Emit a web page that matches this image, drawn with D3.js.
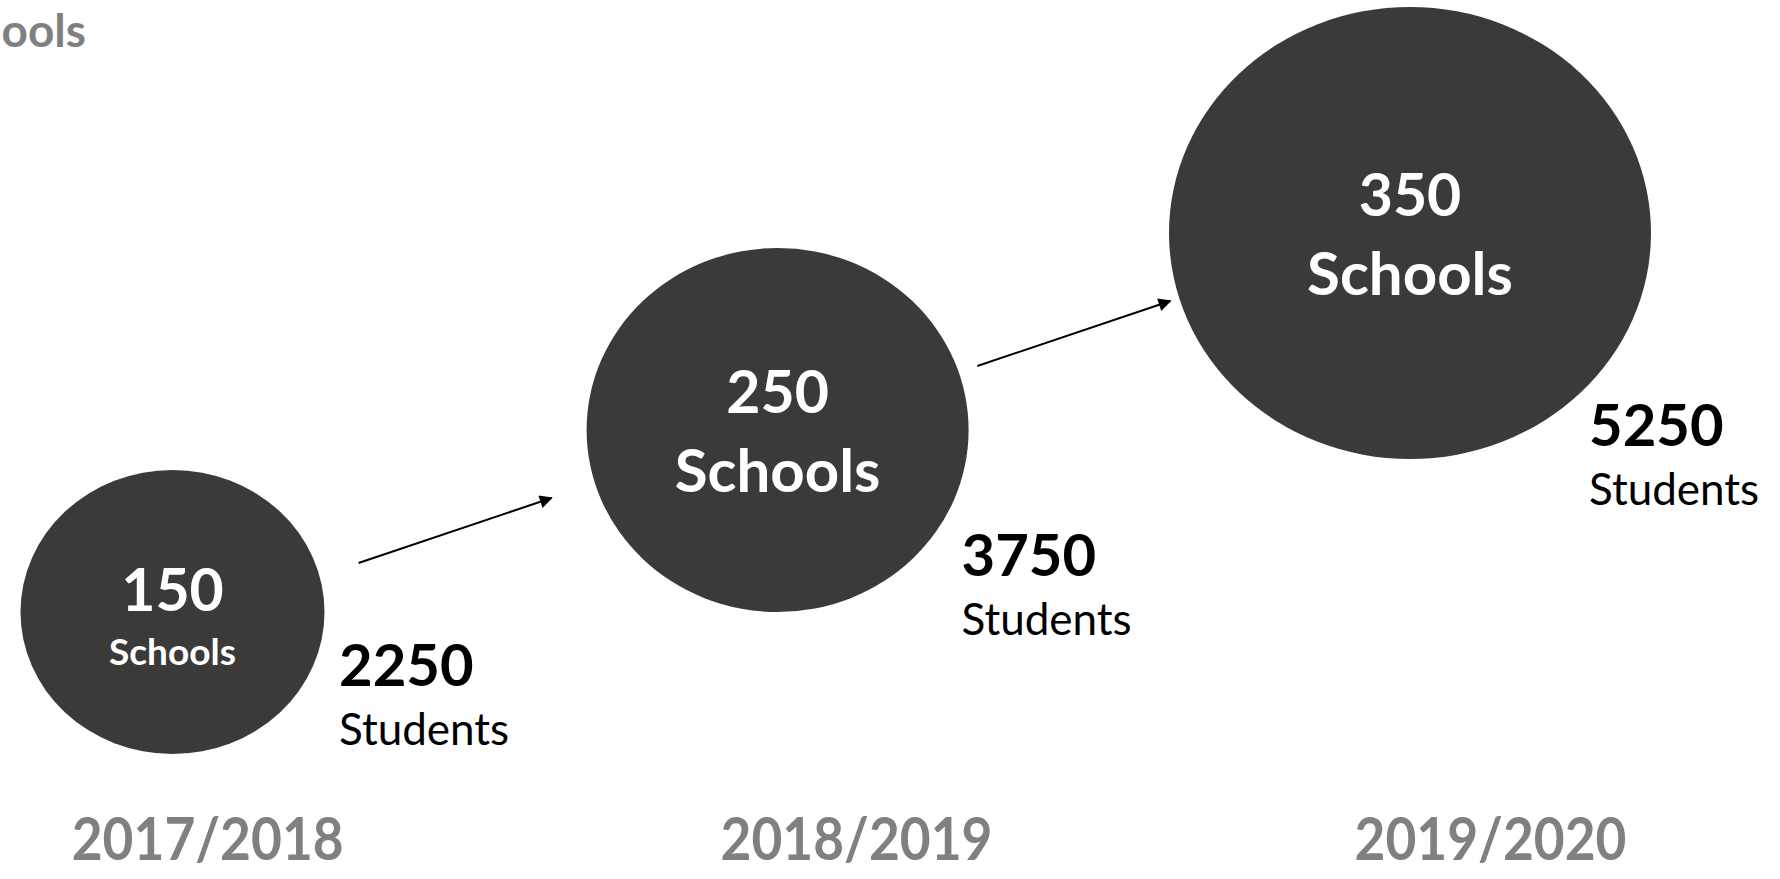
<!DOCTYPE html>
<html>
<head>
<meta charset="utf-8">
<script src="https://cdn.jsdelivr.net/npm/d3@7/dist/d3.min.js"></script>
<style>
  html, body { margin: 0; padding: 0; background: #ffffff; }
  svg { display: block; }
  text { font-family: Lato, "Open Sans", sans-serif; }
</style>
</head>
<body>
<svg id="chart" width="1780" height="879"></svg>
<script>
// ---- data ----
const years = ["2017/2018", "2018/2019", "2019/2020"];
const schools = [150, 250, 350];
const students = [2250, 3750, 5250];
const titleText = "Schools";
const schoolsLabel = "Schools";
const studentsLabel = "Students";

// ---- layout scales ----
const svg = d3.select("#chart");

const cxScale = d3.scaleLinear().domain([0, 1, 2]).range([172.5, 777.6, 1410]);
const cyScale = d3.scaleLinear().domain([150, 250, 350]).range([612, 430, 233]);
const rxScale = d3.scaleLinear().domain([150, 250, 350]).range([152, 191, 241]);
const ryScale = d3.scaleLinear().domain([150, 250, 350]).range([142, 182, 226]);
const yearX = d3.scaleLinear().domain([0, 1, 2]).range([207.7, 856.5, 1490.5]);
const stuX = d3.scaleLinear().domain([0, 1, 2]).range([339, 961.5, 1589]);
const stuY = d3.scaleLinear().domain([2250, 3750, 5250]).range([686, 575.5, 446]);

const data = years.map((y, i) => ({ year: y, schools: schools[i], students: students[i], i }));

// arrow marker
svg.append("defs").append("marker")
  .attr("id", "arrowhead")
  .attr("viewBox", "0 0 10 10")
  .attr("refX", 9).attr("refY", 5)
  .attr("markerUnits", "userSpaceOnUse")
  .attr("markerWidth", 17).attr("markerHeight", 13)
  .attr("orient", "auto")
  .append("path")
  .attr("d", "M0,0 L10,5 L0,10 Z")
  .attr("fill", "#000");

// title (cut off at left edge, as in the original)
svg.append("text")
  .attr("x", 86).attr("y", 47)
  .attr("text-anchor", "end")
  .attr("font-size", 46).attr("font-weight", 700)
  .attr("fill", "#808080")
  .text(titleText);

// arrows between bubbles
const arrowDX = 96.5, arrowDY = 32.5;
d3.pairs(data).forEach(([a, b]) => {
  const mx = (cxScale(a.i) + cxScale(b.i)) / 2 - 20;
  const endY = cyScale(b.schools) + 68;
  svg.append("line")
    .attr("x1", mx - arrowDX).attr("y1", endY + 2 * arrowDY)
    .attr("x2", mx + arrowDX).attr("y2", endY)
    .attr("stroke", "#000").attr("stroke-width", 2)
    .attr("marker-end", "url(#arrowhead)");
});

// bubbles
const g = svg.selectAll("g.bubble").data(data).enter().append("g").attr("class", "bubble");

g.append("ellipse")
  .attr("cx", d => cxScale(d.i))
  .attr("cy", d => cyScale(d.schools))
  .attr("rx", d => rxScale(d.schools))
  .attr("ry", d => ryScale(d.schools))
  .attr("fill", "#3b3a39");

g.append("text")
  .attr("x", d => cxScale(d.i))
  .attr("y", d => cyScale(d.schools) + (d.i === 0 ? -1 : -17))
  .attr("text-anchor", "middle")
  .attr("font-size", 59).attr("font-weight", 700)
  .attr("fill", "#ffffff")
  .text(d => d.schools);

g.append("text")
  .attr("x", d => cxScale(d.i))
  .attr("y", d => cyScale(d.schools) + (d.i === 0 ? 53 : 62))
  .attr("text-anchor", "middle")
  .attr("font-size", d => d.i === 0 ? 37 : 60).attr("font-weight", 700)
  .attr("fill", "#ffffff")
  .text(schoolsLabel);

// students labels
g.append("text")
  .attr("x", d => stuX(d.i))
  .attr("y", d => stuY(d.students))
  .attr("font-size", 58).attr("font-weight", 700)
  .attr("fill", "#000000")
  .text(d => d.students);

g.append("text")
  .attr("x", d => stuX(d.i))
  .attr("y", d => stuY(d.students) + 59)
  .attr("font-size", 44).attr("font-weight", 400)
  .attr("fill", "#000000")
  .text(studentsLabel);

// year labels
g.append("text")
  .attr("x", d => yearX(d.i))
  .attr("y", 860)
  .attr("text-anchor", "middle")
  .attr("font-size", 60).attr("font-weight", 700)
  .attr("textLength", 272)
  .attr("lengthAdjust", "spacingAndGlyphs")
  .attr("fill", "#808080")
  .text(d => d.year);
</script>
</body>
</html>
